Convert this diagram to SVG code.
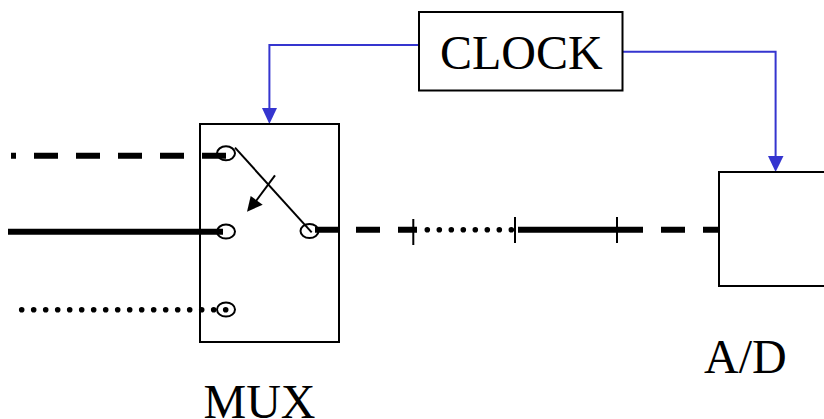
<svg xmlns="http://www.w3.org/2000/svg" width="824" height="419" viewBox="0 0 824 419">
<style>
.box{fill:none;stroke:#000;stroke-width:2}
.port{fill:none;stroke:#000;stroke-width:2}
.thin{stroke:#000;stroke-width:2;fill:none}
.thick{stroke:#000;stroke-width:6;fill:none}
.dot{stroke:#000;stroke-width:5.6;stroke-linecap:round;stroke-dasharray:0 12;fill:none}
.clk{stroke:#3535cf;stroke-width:2;fill:none}
.ah{fill:#3535cf}
text{font-family:"Liberation Serif","Times New Roman",serif;font-size:48px;fill:#000}
</style>
<rect width="824" height="419" fill="#fff"/>
<g id="connectors">
<path class="thick" d="M11 155.7H16M34 155.7H58M76 155.7H100M118 155.7H142M160 155.7H184M202 155.7H226"/>
<path class="thick" d="M8 231.7H223"/>
<path class="dot" d="M21.7 309.7H228"/>
<path class="thick" d="M315 229.7H339M356 229.7H380M398 229.7H417"/>
<path class="dot" d="M427.3 229.7H514"/>
<path class="thick" d="M518 229.7H643M661 229.7H685M703 229.7H719"/>
<path class="thin" d="M413.3 219V245M515 217V243M617 217V243"/>
<path class="thin" d="M235 147.7L311.7 232.3"/>
<path class="thin" d="M275 175.3L256 201"/>
<polygon points="247,211.7 250.7,196 262.7,204.7" fill="#000"/>
<path class="clk" d="M419 45H269.4V110"/>
<polygon class="ah" points="269.4,124 262,108 277,108"/>
<path class="clk" d="M622 51.7H775.6V158"/>
<polygon class="ah" points="775.6,172 768,156 783.5,156"/>
</g>
<g id="mux">
<rect class="box" x="200" y="124" width="139" height="218"/>
<ellipse class="port" cx="226" cy="153.3" rx="9" ry="7"/>
<ellipse class="port" cx="226" cy="231.6" rx="9" ry="7"/>
<ellipse class="port" cx="226" cy="309.5" rx="9" ry="7"/>
<ellipse class="port" cx="309.5" cy="231" rx="9" ry="7"/>
<text x="203.5" y="418">MUX</text>
</g>
<g id="clock">
<rect class="box" x="419" y="12" width="203.5" height="78.5"/>
<text x="440" y="69">CLOCK</text>
</g>
<g id="ad">
<path class="box" d="M826 172H719V286H826"/>
<text x="704" y="373">A/D</text>
</g>
</svg>
